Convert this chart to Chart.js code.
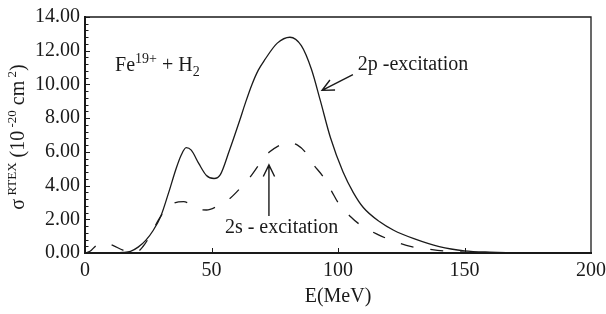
<!DOCTYPE html>
<html lang="en">
<head>
<meta charset="UTF-8">
<title>RTEX cross sections</title>
<style>
  html, body { margin: 0; padding: 0; background: #fff; }
  #wrap { width: 606px; height: 314px; }
</style>
<script src="https://cdn.jsdelivr.net/npm/chart.js"></script>
</head>
<body>
<div id="wrap"><canvas id="rtexChart" width="606" height="314"></canvas></div>
<script>
// values: energy in MeV, sigma in 1e-20 cm^2
const energy2p = [10, 15, 18, 21, 24, 27, 30, 33, 36, 38, 40, 42, 45, 48, 51, 53.5, 57, 61, 63.5, 66, 68.5, 71, 76, 81, 85.5, 89.5, 93, 97, 102, 106, 110, 116.5, 122, 130, 140, 150, 160, 175, 200];
const sigma2p  = [0, 0.03, 0.1, 0.35, 0.75, 1.35, 2.2, 3.55, 5.0, 5.8, 6.25, 6.1, 5.3, 4.6, 4.42, 4.65, 6.05, 7.8, 8.95, 10.0, 10.85, 11.45, 12.45, 12.8, 12.3, 10.9, 9.05, 6.85, 4.8, 3.6, 2.7, 1.85, 1.35, 0.85, 0.38, 0.13, 0.05, 0.01, 0];

const energy2s = [0, 2, 4.5, 8, 11, 15, 18, 20, 23, 26, 29, 32, 35, 39, 42, 45, 48, 52, 57, 62, 66, 70, 73, 77, 80, 84, 87, 90, 94, 97.5, 100, 105, 109, 116, 121, 129, 134, 142, 150, 165, 180, 200];
const sigma2s  = [0, 0.1, 0.45, 0.6, 0.45, 0.17, 0.03, 0.02, 0.4, 1.1, 1.95, 2.6, 2.95, 3.05, 2.85, 2.6, 2.55, 2.75, 3.2, 3.95, 4.65, 5.5, 6.0, 6.4, 6.57, 6.4, 6.0, 5.3, 4.55, 3.66, 3.0, 2.15, 1.65, 1.08, 0.76, 0.38, 0.27, 0.12, 0.05, 0.02, 0.01, 0];

const xTickValues = [0, 50, 100, 150, 200];
const yTickValues = [0, 2, 4, 6, 8, 10, 12, 14];

const SERIF = '"Liberation Serif", "Times New Roman", serif';
const INK = '#1a1a1a';

function toPoints(xs, ys) {
  return xs.map((x, i) => ({ x: x, y: ys[i] }));
}

// draws a run of text pieces with super/subscripts: [text, size, baselineShift]
function drawRich(ctx, parts, x, y, centred) {
  let w = 0;
  parts.forEach(p => { ctx.font = p[1] + 'px ' + SERIF; w += ctx.measureText(p[0]).width; });
  let cx = centred ? x - w / 2 : x;
  parts.forEach(p => {
    ctx.font = p[1] + 'px ' + SERIF;
    ctx.fillText(p[0], cx, y + p[2]);
    cx += ctx.measureText(p[0]).width;
  });
}

function arrow(ctx, x1, y1, x2, y2) {
  const a = Math.atan2(y2 - y1, x2 - x1);
  const len = 13, spread = 0.45;
  ctx.beginPath();
  ctx.moveTo(x1, y1);
  ctx.lineTo(x2, y2);
  ctx.moveTo(x2 - len * Math.cos(a - spread), y2 - len * Math.sin(a - spread));
  ctx.lineTo(x2, y2);
  ctx.lineTo(x2 - len * Math.cos(a + spread), y2 - len * Math.sin(a + spread));
  ctx.stroke();
}

const decorations = {
  id: 'decorations',
  afterDraw(chart) {
    const ctx = chart.ctx;
    const area = chart.chartArea;
    const xs = chart.scales.x, ys = chart.scales.y;
    ctx.save();
    ctx.strokeStyle = INK;
    ctx.fillStyle = INK;

    // frame top and right
    ctx.lineWidth = 1.3;
    ctx.beginPath();
    ctx.moveTo(area.left, area.top);
    ctx.lineTo(area.right, area.top);
    ctx.lineTo(area.right, area.bottom);
    ctx.stroke();

    // inward ticks on the y axis, minor every 0.4
    ctx.lineWidth = 1;
    for (let v = 0; v <= 14.001; v += 0.4) {
      const py = Math.round(ys.getPixelForValue(v)) + 0.5;
      const major = Math.abs(v / 2 - Math.round(v / 2)) < 0.01;
      ctx.beginPath();
      ctx.moveTo(area.left, py);
      ctx.lineTo(area.left + (major ? 5 : 3.5), py);
      ctx.stroke();
    }
    // inward ticks on the x axis
    xTickValues.slice(1, -1).forEach(v => {
      const px = Math.round(xs.getPixelForValue(v)) + 0.5;
      ctx.beginPath();
      ctx.moveTo(px, area.bottom);
      ctx.lineTo(px, area.bottom - 5);
      ctx.stroke();
    });

    ctx.textAlign = 'left';
    ctx.textBaseline = 'alphabetic';

    // system label
    drawRich(ctx, [['Fe', 20, 0], ['19+', 14, -8], [' + H', 20, 0], ['2', 14, 5]],
      xs.getPixelForValue(11.9), ys.getPixelForValue(10.8), false);

    // curve labels and arrows
    drawRich(ctx, [['2p -excitation', 20, 0]],
      xs.getPixelForValue(107.8), ys.getPixelForValue(10.87), false);
    drawRich(ctx, [['2s - excitation', 20, 0]],
      xs.getPixelForValue(55.3), ys.getPixelForValue(1.16), false);

    ctx.lineWidth = 1.4;
    arrow(ctx, xs.getPixelForValue(105.9), ys.getPixelForValue(10.58),
               xs.getPixelForValue(93.7), ys.getPixelForValue(9.65));
    arrow(ctx, xs.getPixelForValue(72.7), ys.getPixelForValue(2.2),
               xs.getPixelForValue(72.7), ys.getPixelForValue(5.23));

    // y axis title, rotated, with superscripts
    ctx.translate(24, 137);
    ctx.rotate(-Math.PI / 2);
    drawRich(ctx, [['\u03c3', 20, 0], [' RTEX', 13, -8], [' (10', 20, 0], [' -20', 13, -8],
                   [' cm', 20, 0], [' 2', 13, -8], [')', 20, 0]], 0, 0, true);
    ctx.restore();
  }
};

const ctx = document.getElementById('rtexChart').getContext('2d');
const rtexChart = new Chart(ctx, {
  type: 'line',
  data: {
    datasets: [{
      label: '2p-excitation',
      data: toPoints(energy2p, sigma2p),
      borderColor: INK,
      borderWidth: 1.3,
      pointRadius: 0,
      fill: false,
      cubicInterpolationMode: 'monotone'
    }, {
      label: '2s-excitation',
      data: toPoints(energy2s, sigma2s),
      borderColor: INK,
      borderWidth: 1.3,
      borderDash: [13, 17],
      pointRadius: 0,
      fill: false,
      cubicInterpolationMode: 'monotone'
    }]
  },
  options: {
    responsive: false,
    animation: false,
    layout: { padding: { top: 12, right: 15, left: 0, bottom: 0 } },
    plugins: { legend: { display: false }, tooltip: { enabled: false } },
    scales: {
      x: {
        type: 'linear',
        min: 0,
        max: 200,
        afterBuildTicks: scale => { scale.ticks = xTickValues.map(v => ({ value: v })); },
        afterFit: scale => { scale.height = 61; scale.paddingRight = 0; scale.paddingLeft = 0; },
        grid: { display: false, drawTicks: false },
        border: { display: true, width: 2, color: INK },
        ticks: { color: INK, padding: 6, maxRotation: 0, font: { family: SERIF, size: 20 } },
        title: { display: true, text: 'E(MeV)', color: INK, padding: { top: 0, bottom: 5 },
                 font: { family: SERIF, size: 20 } }
      },
      y: {
        min: 0,
        max: 14,
        afterBuildTicks: scale => { scale.ticks = yTickValues.map(v => ({ value: v })); },
        afterFit: scale => { scale.width = 85; },
        grid: { display: false, drawTicks: false },
        border: { display: true, width: 2, color: INK },
        ticks: { color: INK, padding: 5, font: { family: SERIF, size: 20 },
                 callback: v => v.toFixed(2) }
      }
    }
  },
  plugins: [decorations]
});
</script>
</body>
</html>
